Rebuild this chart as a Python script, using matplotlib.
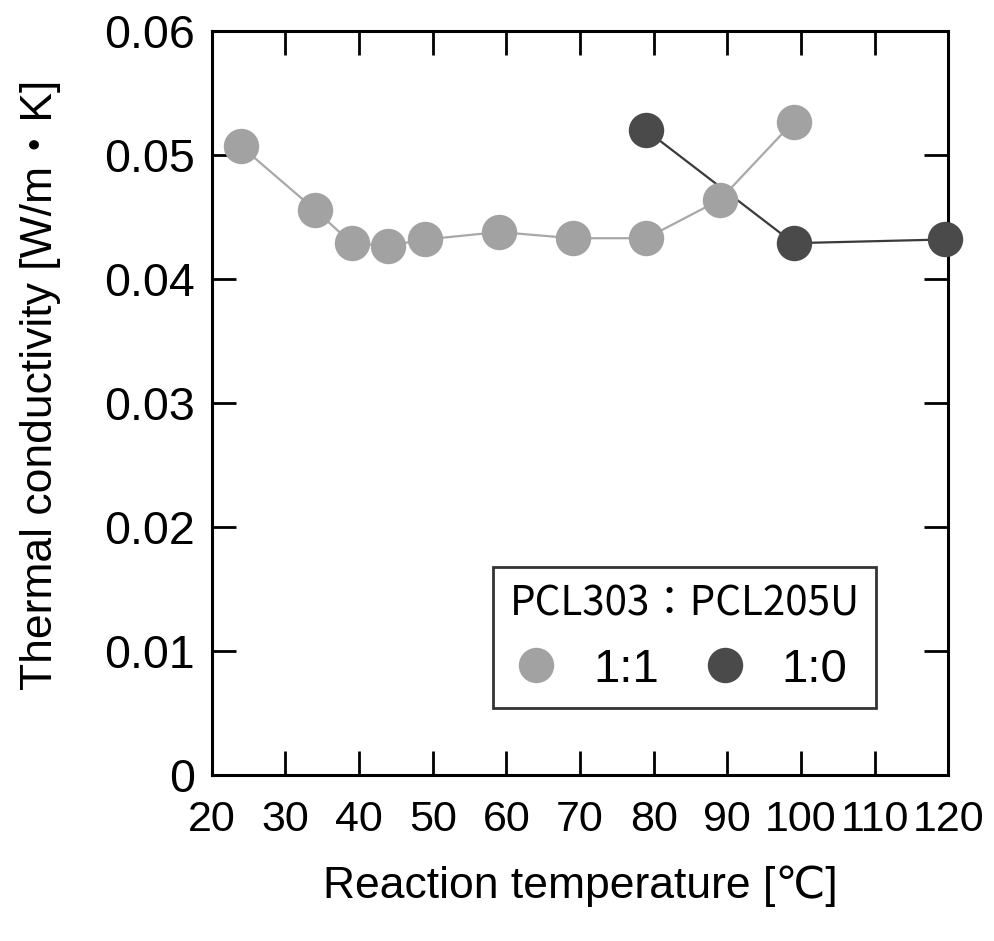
import matplotlib
matplotlib.use("Agg")
import matplotlib.pyplot as plt
from matplotlib.ticker import FixedLocator, FuncFormatter

# data
temp_11 = [24, 34, 39, 44, 49, 59, 69, 79, 89, 99]
k_11 = [0.0507, 0.0456, 0.0429, 0.0427, 0.0432, 0.0438, 0.0433, 0.0433, 0.0464, 0.0527]
temp_10 = [79, 99, 119.5]
k_10 = [0.0520, 0.0429, 0.0432]

x_ticks = [20, 30, 40, 50, 60, 70, 80, 90, 100, 110, 120]
y_ticks = [0, 0.01, 0.02, 0.03, 0.04, 0.05, 0.06]

plt.rcParams['font.family'] = ['Liberation Sans', 'DejaVu Sans']

fig = plt.figure(figsize=(9.94, 9.41), dpi=100)
ax = fig.add_axes([0.213, 0.176, 0.741, 0.791])

light = '#a2a2a2'
dark = '#4a4a4a'

ax.plot(temp_11, k_11, '-', color='#a8a8a8', lw=1.6, zorder=2)
ax.plot(temp_11, k_11, 'o', color=light, ms=25.5, mec='none', zorder=3,
        clip_on=False, label='1:1')
ax.plot(temp_10, k_10, '-', color='#3a3a3a', lw=1.6, zorder=2)
ax.plot(temp_10, k_10, 'o', color=dark, ms=25.5, mec='none', zorder=4,
        clip_on=False, label='1:0')

ax.set_xlim(20, 120)
ax.set_ylim(0, 0.06)
ax.xaxis.set_major_locator(FixedLocator(x_ticks))
ax.yaxis.set_major_locator(FixedLocator(y_ticks))
ax.yaxis.set_major_formatter(FuncFormatter(lambda v, p: '0' if v == 0 else f'{v:.2f}'))

ax.tick_params(direction='in', length=17, width=2, top=True, right=True)
ax.tick_params(axis='x', pad=18, labelsize=31)
ax.tick_params(axis='y', pad=12, labelsize=33.5)
for s in ax.spines.values():
    s.set_linewidth(2.2)

ax.set_xlabel('Reaction temperature [\u2103]', fontsize=32, labelpad=18)
ax.set_ylabel('Thermal conductivity [W/m\u30fbK]', fontsize=32,
              family=['Liberation Sans', 'Noto Sans CJK JP'])
ax.yaxis.set_label_coords(-0.205, 0.524)

leg = ax.legend(loc='lower left', bbox_to_anchor=(0.382, 0.09), borderaxespad=0,
                ncol=2, title='PCL303\uff1aPCL205U', fontsize=34, frameon=True,
                fancybox=False, edgecolor='black', handlelength=0.6,
                handletextpad=0.9, columnspacing=1.1, borderpad=0.35,
                labelspacing=0.5, markerscale=1.0)
leg.get_title().set_fontsize(29)
leg.get_title().set_family(['Noto Sans CJK JP', 'DejaVu Sans'])
leg.get_frame().set_linewidth(2)

fig.savefig('out.png', dpi=100, facecolor='white')
